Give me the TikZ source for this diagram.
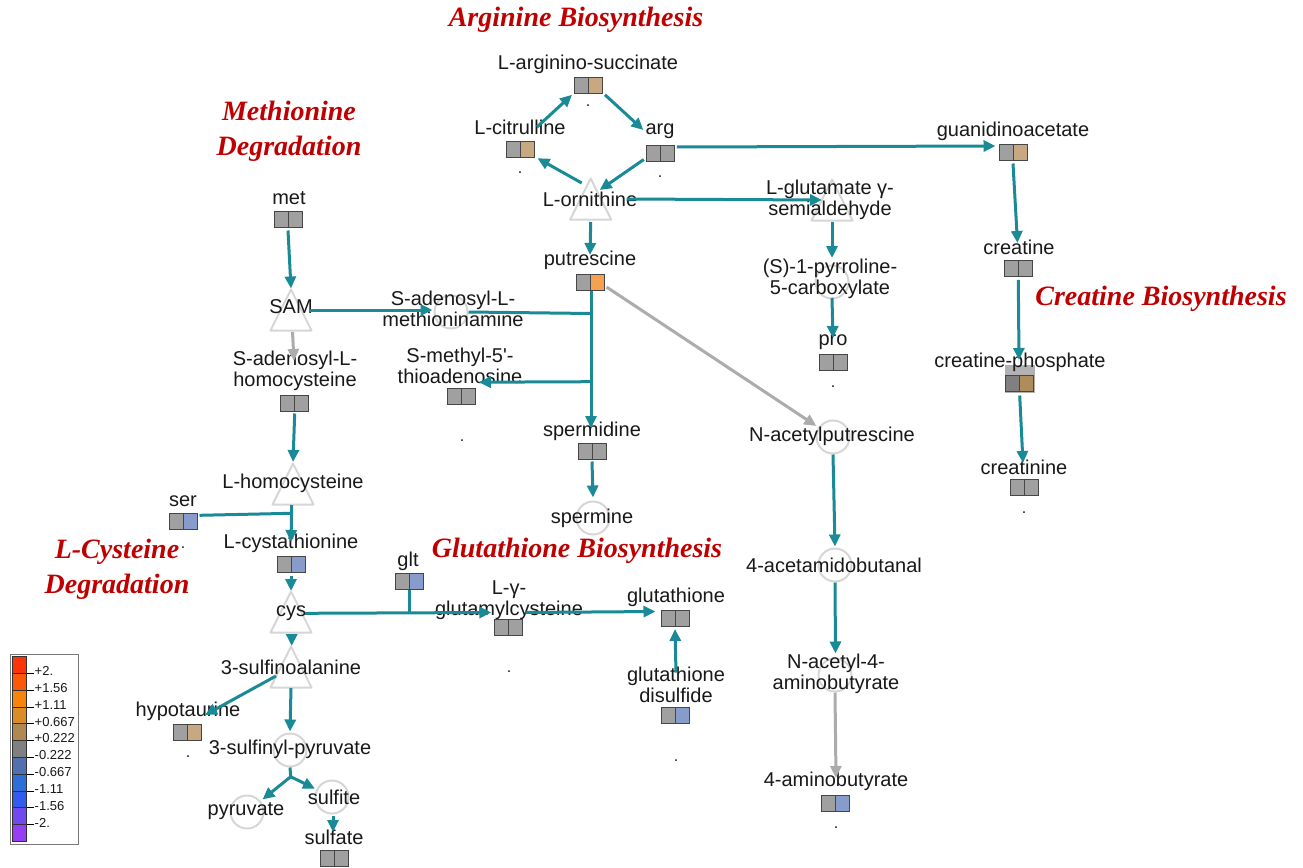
\documentclass[tikz,border=0pt]{standalone}
\usepackage{fontspec}
\setmainfont{Liberation Sans}
\newfontfamily\ttlfont{Liberation Serif}
\usetikzlibrary{arrows.meta,calc}
\definecolor{tealc}{RGB}{26,138,150}
\definecolor{grayc}{RGB}{172,172,172}
\definecolor{shapec}{RGB}{214,214,214}
\definecolor{titlec}{RGB}{192,0,0}
\definecolor{txtc}{RGB}{25,25,25}
\definecolor{bxg}{RGB}{160,160,160}
\definecolor{bxb}{RGB}{136,156,204}
\definecolor{bxt}{RGB}{200,168,128}
\definecolor{bxo}{RGB}{245,162,80}
\definecolor{bxdg}{RGB}{128,128,128}
\definecolor{bxbr}{RGB}{176,140,90}
\definecolor{bxedge}{RGB}{70,70,70}
\definecolor{cpbgc}{RGB}{178,178,178}
\definecolor{legedge}{RGB}{120,120,120}
\definecolor{lg1}{RGB}{252,52,8}
\definecolor{lg2}{RGB}{252,88,8}
\definecolor{lg3}{RGB}{248,132,10}
\definecolor{lg4}{RGB}{220,140,36}
\definecolor{lg5}{RGB}{176,136,84}
\definecolor{lg6}{RGB}{128,128,128}
\definecolor{lg7}{RGB}{82,112,176}
\definecolor{lg8}{RGB}{46,110,216}
\definecolor{lg9}{RGB}{50,92,240}
\definecolor{lg10}{RGB}{112,74,240}
\definecolor{lg11}{RGB}{150,62,245}
\tikzset{
  lbl/.style={font=\fontsize{20}{21.5}\selectfont, align=center, inner sep=0pt, text=txtc},
  ttl/.style={font=\ttlfont\fontsize{28}{35}\selectfont\bfseries\itshape, text=titlec, align=center, inner sep=0pt},
  dbox/.style 2 args={draw=bxedge, line width=1pt, minimum width=28pt, minimum height=16pt, inner sep=0pt,
    path picture={
      \fill[#1] (path picture bounding box.south west) rectangle (path picture bounding box.north);
      \fill[#2] (path picture bounding box.north) rectangle (path picture bounding box.south east);
      \draw[bxedge, line width=1pt] (path picture bounding box.north) -- (path picture bounding box.south);}},
  cnode/.style={circle, draw=shapec, line width=2pt, minimum size=33pt, inner sep=0pt},
  conn/.style={draw=tealc, line width=3pt, -{Triangle[length=12pt,width=11pt]}},
  connplain/.style={draw=tealc, line width=3pt},
  gconn/.style={draw=grayc, line width=3pt, -{Triangle[length=12pt,width=11pt]}},
  dotl/.style={font=\fontsize{16}{16}\selectfont, inner sep=0pt, anchor=base, text=txtc},
  legl/.style={font=\fontsize{13}{13}\selectfont, inner sep=0pt, anchor=west, text=txtc},
  pics/tri/.style={code={\draw[shapec, line width=2pt, line join=round] (0,-20.5) -- (20.5,20.5) -- (-20.5,20.5) -- cycle;}},
}
\begin{document}
\begin{tikzpicture}[x=1pt,y=-1pt]
\useasboundingbox (0,0) rectangle (1303,867);
\fill[white] (0,0) rectangle (1303,867);

% ---------- titles
\node[ttl] (tArg) at (576,20) {Arginine Biosynthesis};
\node[ttl] (tMet) at (289,131) {Methionine\\Degradation};
\node[ttl] (tCys) at (117,569) {L-Cysteine\\Degradation};
\node[ttl] (tGsh) at (577,551) {Glutathione Biosynthesis};
\node[ttl] (tCre) at (1161,299) {Creatine Biosynthesis};

% ---------- triangles and circles
\coordinate (torn) at (590.7,199); \pic at (torn) {tri};
\coordinate (tsam) at (291,310); \pic at (tsam) {tri};
\coordinate (thcy) at (293,484); \pic at (thcy) {tri};
\coordinate (tcys) at (291,612); \pic at (tcys) {tri};
\coordinate (tsfa) at (291,667); \pic at (tsfa) {tri};
\coordinate (tgsa) at (832,200); \pic at (tgsa) {tri};

\node[cnode] (csamn) at (451,312) {};
\node[cnode] (cp5c) at (832,282) {};
\node[cnode] (cnap) at (833,437) {};
\node[cnode] (caab) at (835,565) {};
\node[cnode] (cnab) at (835,675) {};
\node[cnode] (csp) at (290,750) {};
\node[cnode] (cpyr) at (247,812) {};
\node[cnode] (csulfite) at (332,797) {};
\node[cnode] (cspm) at (593,518) {};

\node[fill=cpbgc, minimum width=30pt, minimum height=28pt, inner sep=0pt] (cpbg) at (1020,379) {};

% ---------- labels
\node[lbl] (las) at (588,64) {L-arginino-succinate};
\node[lbl] (lcit) at (520,127) {L-citrulline};
\node[lbl] (larg) at (660,131) {arg};
\node[lbl] (lorn) at (590,199) {L-ornithine};
\node[lbl] (lgaa) at (1013,131) {guanidinoacetate};
\node[lbl] (lcre) at (1019,247) {creatine};
\node[lbl] (lcp) at (1020,362) {creatine-phosphate};
\node[lbl] (lcrn) at (1024,467) {creatinine};
\node[lbl] (lgsa) at (830,200) {L-glutamate γ-\\semialdehyde};
\node[lbl] (lp5c) at (830,279) {(S)-1-pyrroline-\\5-carboxylate};
\node[lbl] (lpro) at (833,342) {pro};
\node[lbl] (lput) at (590,260) {putrescine};
\node[lbl] (lsamn) at (453,309) {S-adenosyl-L-\\methioninamine};
\node[lbl] (lmta) at (460,366) {S-methyl-5\textquotesingle-\\thioadenosine};
\node[lbl] (lsam) at (291,307) {SAM};
\node[lbl] (lmet) at (289,198) {met};
\node[lbl] (lsah) at (295,371) {S-adenosyl-L-\\homocysteine};
\node[lbl] (lhcy) at (293,483) {L-homocysteine};
\node[lbl] (lser) at (183,501) {ser};
\node[lbl] (lcth) at (291,543) {L-cystathionine};
\node[lbl] (lcys) at (291,613) {cys};
\node[lbl] (lglt) at (408,561) {glt};
\node[lbl] (lsfa) at (291,667) {3-sulfinoalanine};
\node[lbl] (lhyp) at (188,711) {hypotaurine};
\node[lbl] (lsp) at (290,749) {3-sulfinyl-pyruvate};
\node[lbl] (lpyr) at (246,811) {pyruvate};
\node[lbl] (lsulfite) at (334,797) {sulfite};
\node[lbl] (lsulfate) at (334,837) {sulfate};
\node[lbl] (lggc) at (509,600) {L-γ-\\glutamylcysteine};
\node[lbl] (lgsh) at (676,597) {glutathione};
\node[lbl] (lgssg) at (676,685) {glutathione\\disulfide};
\node[lbl] (lspd) at (592,431) {spermidine};
\node[lbl] (lspm) at (592,518) {spermine};
\node[lbl] (lnap) at (832,436) {N-acetylputrescine};
\node[lbl] (laab) at (834,565) {4-acetamidobutanal};
\node[lbl] (lnab) at (836,674) {N-acetyl-4-\\aminobutyrate};
\node[lbl] (lgaba) at (836,781) {4-aminobutyrate};

% ---------- data boxes
\node[dbox={bxg}{bxt}] (bas) at (588.5,85.3) {};
\node[dbox={bxg}{bxt}] (bcit) at (520,149.7) {};
\node[dbox={bxg}{bxg}] (barg) at (660.3,153) {};
\node[dbox={bxg}{bxt}] (bgaa) at (1013,152) {};
\node[dbox={bxg}{bxg}] (bcre) at (1018.3,268.3) {};
\node[dbox={bxdg}{bxbr}] (bcp) at (1019.7,383) {};
\node[dbox={bxg}{bxg}] (bcrn) at (1024.5,487) {};
\node[dbox={bxg}{bxg}] (bpro) at (833.7,362) {};
\node[dbox={bxg}{bxo}] (bput) at (590,282) {};
\node[dbox={bxg}{bxg}] (bmet) at (288,219) {};
\node[dbox={bxg}{bxg}] (bsah) at (294.7,403) {};
\node[dbox={bxg}{bxg}] (bmta) at (461.3,396.7) {};
\node[dbox={bxg}{bxg}] (bspd) at (592,451) {};
\node[dbox={bxg}{bxb}] (bser) at (183,521.3) {};
\node[dbox={bxg}{bxb}] (bcth) at (291,564) {};
\node[dbox={bxg}{bxb}] (bglt) at (409,581.3) {};
\node[dbox={bxg}{bxg}] (bggc) at (508.8,627) {};
\node[dbox={bxg}{bxg}] (bgsh) at (675,618.5) {};
\node[dbox={bxg}{bxb}] (bgssg) at (675,715.5) {};
\node[dbox={bxg}{bxt}] (bhyp) at (187.5,732) {};
\node[dbox={bxg}{bxg}] (bsul) at (334.5,858) {};
\node[dbox={bxg}{bxb}] (bgaba) at (835.8,803) {};

% ---------- small dots
\node[dotl] (d1) at (588,106) {.};
\node[dotl] (d2) at (520,173) {.};
\node[dotl] (d3) at (660,177) {.};
\node[dotl] (d4) at (1013,177) {.};
\node[dotl] (d5) at (1018,293) {.};
\node[dotl] (d6) at (1020,407) {.};
\node[dotl] (d7) at (1024,513) {.};
\node[dotl] (d8) at (833,387) {.};
\node[dotl] (d9) at (462,441) {.};
\node[dotl] (d10) at (509,672) {.};
\node[dotl] (d11) at (676,761) {.};
\node[dotl] (d12) at (836,828) {.};
\node[dotl] (d13) at (188,757) {.};
\node[dotl] (d14) at (183,548) {.};

% ---------- connectors: arginine
\draw[conn] ($(lcit.center)+(17,0)$) -- ($(bas.south west)+(-2,1)$);
\draw[conn] ($(bas.south east)+(2,1)$) -- ($(larg.west)+(-2,-1)$);
\draw[conn] ($(barg.south west)+(-2,-2)$) -- ($(torn)+(9,-9)$);
\draw[conn] ($(torn)+(-9,-16)$) -- ($(bcit.south east)+(3,0)$);
\draw[conn] ($(barg.east)+(2,-6)$) -- ($(bgaa.west)+(-3,-6)$);
\draw[conn] ($(torn)+(36,0)$) -- ($(tgsa)+(-10,0)$);
\draw[conn] ($(torn)+(0,23)$) -- ($(lput.center)+(0,-5)$);
% creatine
\draw[conn] ($(bgaa.south)+(0,3)$) -- ($(lcre.center)+(-1.5,-4)$);
\draw[conn] ($(bcre.south)+(0,3)$) -- ($(lcp.center)+(-1,-2)$);
\draw[conn] ($(bcp.south)+(0,4)$) -- ($(lcrn.center)+(-1,-4)$);
% proline
\draw[conn] ($(tgsa)+(0,22)$) -- ($(cp5c)+(0,-24)$);
\draw[conn] ($(cp5c)+(0,16)$) -- ($(lpro.center)+(0,-4)$);
% putrescine branch
\draw[gconn, shorten >=20pt] ($(bput.east)+(2,5)$) -- (cnap.center);
\draw[conn] (cnap.south) -- ($(caab.north)+(0,-1)$);
\draw[conn] (caab.south) -- ($(cnab.north)+(0.5,-4)$);
\draw[gconn] (cnab.south) -- ($(lgaba.center)+(0,-3)$);
% methionine
\draw[conn] ($(bmet.south)+(0,3)$) -- ($(tsam)+(0,-21.5)$);
\draw[conn] ($(tsam)+(19,0)$) -- ($(csamn.west)+(-1,-2)$);
\draw[gconn] ($(tsam)+(1.5,22)$) -- ($(lsah.center)+(-1,-10)$);
\coordinate (j1) at (591,313.5);
\coordinate (j2) at (591,381.7);
\draw[connplain] (csamn.east) -- (j1);
\draw[conn] ($(bput.south)+(1,0)$) -- ($(lspd.center)+(-1,-3)$);
\draw[conn] (j2) -- ($(bmta.north east)+(3,-6)$);
\draw[conn] ($(bspd.south)+(0,2)$) -- ($(cspm.north)+(0,-3)$);
\draw[conn] ($(bsah.south)+(0,2)$) -- ($(thcy)+(0,-22)$);
% cysteine
\coordinate (j3) at (291.7,513.3);
\draw[conn] ($(thcy)+(-1.3,21)$) -- ($(lcth.center)+(0,-1)$);
\draw[connplain] ($(bser.east)+(2,-6)$) -- (j3);
\draw[conn] ($(bcth.south)+(0,3)$) -- ($(tcys)+(0,-21)$);
\coordinate (j4) at (409,613.3);
\draw[conn] ($(tcys)+(14,1.3)$) -- ($(bggc.north west)+(-3,-6)$);
\draw[connplain] (bglt.south) -- (j4);
\draw[conn] ($(bggc.north east)+(2,-6)$) -- ($(bgsh.west)+(-5,-7)$);
\draw[conn] ($(lgssg.north)+(0,6)$) -- ($(bgsh.south)+(0,2)$);
\draw[conn] ($(tcys)+(0.7,22)$) -- ($(tsfa)+(0.7,-21)$);
\draw[conn] ($(tsfa)+(-15,9)$) -- ($(lhyp.center)+(17,4)$);
\draw[conn] ($(tsfa)+(0,21)$) -- ($(csp.north)+(0,-1)$);
\coordinate (j5) at (290.7,776.7);
\draw[connplain] (csp.south) -- (j5);
\draw[conn, shorten >=20pt] (j5) -- (cpyr.center);
\draw[conn, shorten >=19pt] (j5) -- (csulfite.center);
\draw[conn] ($(csulfite.south)+(1,1)$) -- ($(lsulfate.center)+(-1,-5)$);

% ---------- legend
\node[draw=legedge, line width=1.2pt, minimum width=68pt, minimum height=190pt, inner sep=0pt, anchor=north west] (legend) at (9.5,653.5) {};
\foreach \c [count=\i] in {lg1,lg2,lg3,lg4,lg5,lg6,lg7,lg8,lg9,lg10,lg11} {
  \filldraw[fill=\c, draw={rgb,255:red,50;green,50;blue,50}, line width=0.8pt] (12.5,{656.5+16.8*(\i-1)}) rectangle (26.5,{656.5+16.8*\i});
}
\foreach \t [count=\i] in {+2.,+1.56,+1.11,+0.667,+0.222,-0.222,-0.667,-1.11,-1.56,-2.} {
  \draw[black, line width=0.8pt] (26.5,{656.5+16.8*\i}) -- (34,{656.5+16.8*\i});
  \node[legl] (leg\i) at (34.5,{656.5+16.8*\i-2}) {\t};
}
\end{tikzpicture}
\end{document}
